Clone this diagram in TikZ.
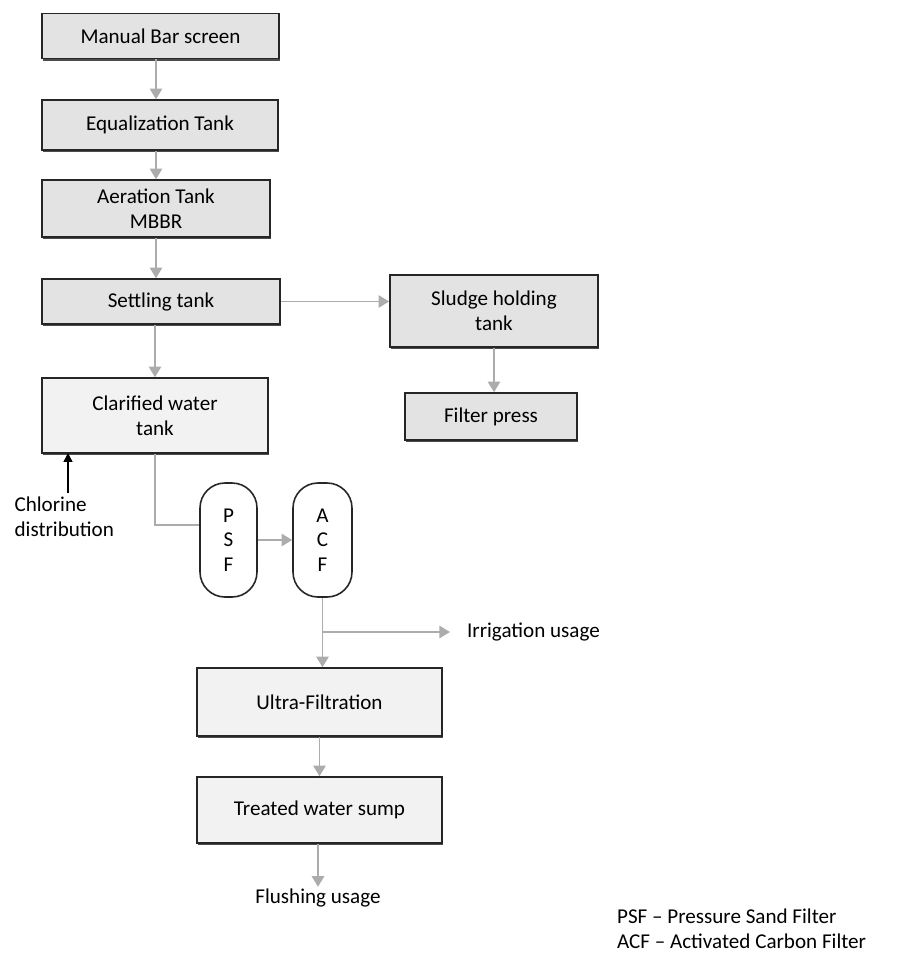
\documentclass[tikz,border=0pt]{standalone}
\usepackage{fontspec}
\setmainfont{Carlito}
\usetikzlibrary{shadows,arrows.meta}
\begin{document}
\begin{tikzpicture}[every node/.style={font=\fontsize{12}{14}\selectfont,align=center,inner sep=1pt},
	stagebox/.style={rectangle,draw=black!85,line width=0.9pt,fill=gray!22,
	drop shadow={shadow xshift=0.6pt,shadow yshift=-1.4pt,fill=black!70,opacity=1}},
	lightbox/.style={stagebox,fill=gray!10},
	filterbox/.style={rectangle,rounded corners=0.5cm,draw=black!85,line width=0.9pt,fill=white},
	flow/.style={draw=gray!65,line width=1pt,-{Triangle[length=6pt,width=7pt,fill=gray!65]}},
	pipe/.style={draw=gray!65,line width=1pt}]
\useasboundingbox (0,0) rectangle (17.96,-19.3);
\node[stagebox,minimum width=4.74cm,minimum height=0.9cm] (bar) at (3.21,-0.72) {Manual Bar screen};
\node[stagebox,minimum width=4.72cm,minimum height=1.0cm] (equal) at (3.2,-2.5) {Equalization Tank};
\node[stagebox,minimum width=4.56cm,minimum height=1.14cm] (aer) at (3.12,-4.17) {Aeration Tank\\MBBR};
\node[stagebox,minimum width=4.76cm,minimum height=0.9cm] (settle) at (3.22,-6.03) {Settling tank};
\node[lightbox,minimum width=4.52cm,minimum height=1.5cm] (clar) at (3.1,-8.31) {Clarified water\\tank};
\node[stagebox,minimum width=4.16cm,minimum height=1.44cm] (sludge) at (9.88,-6.22) {Sludge holding\\tank};
\node[stagebox,minimum width=3.44cm,minimum height=0.94cm] (press) at (9.82,-8.33) {Filter press};
\node[filterbox,minimum width=1.14cm,minimum height=2.28cm] (psf) at (4.57,-10.8) {P\\S\\F};
\node[filterbox,minimum width=1.18cm,minimum height=2.28cm] (acf) at (6.45,-10.8) {A\\C\\F};
\node[lightbox,minimum width=4.9cm,minimum height=1.36cm] (ultra) at (6.39,-14.04) {Ultra-Filtration};
\node[lightbox,minimum width=4.9cm,minimum height=1.32cm] (sump) at (6.39,-16.2) {Treated water sump};
\node (flush) at (6.36,-17.96) {Flushing usage};
\node[anchor=west] (irrig) at (9.3,-12.64) {Irrigation usage};
\node[align=left,anchor=north west] (chlor) at (0.25,-9.9) {Chlorine\\distribution};
\node[align=left,anchor=west] (legend) at (12.3,-18.58) {PSF -- Pressure Sand Filter\\ACF -- Activated Carbon Filter};
\coordinate (bend) at (3.1,-10.5);
\coordinate (split) at (6.45,-12.64);
\draw[flow] (bar.south -| aer) -- (equal.north -| aer);
\draw[flow] (equal.south -| aer) -- (aer.north);
\draw[flow] (aer) -- (settle.north -| aer);
\draw[flow] (settle.south -| clar) -- (clar);
\draw[flow] (settle.east) -- (settle.east -| sludge.west);
\draw[flow] (sludge) -- (press.north -| sludge);
\draw[pipe] (clar.south) -- (bend) -- (bend -| psf.west);
\draw[flow] (psf.east) -- (psf.east -| acf.west);
\draw[flow] (acf) -- (ultra.north -| acf);
\draw[flow,shorten >=0.3cm] (split) -- (irrig);
\draw[flow] (sump.south -| flush) -- (flush);
\draw[flow] (ultra) -- (sump);
\draw[-{Triangle[length=5pt,width=5pt]},line width=0.8pt] (1.36,-9.86) -- (1.36,-9.06);
\end{tikzpicture}
\end{document}
